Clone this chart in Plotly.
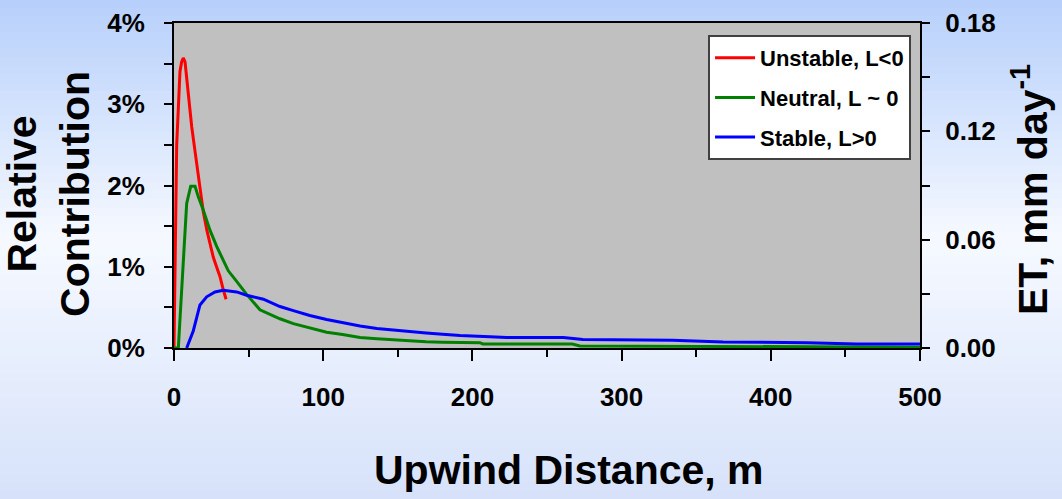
import plotly.graph_objects as go

# upwind distance (m) and relative contribution (%)
unstable_x = [0, 1.1, 1.8, 2.9, 4.0, 5.1, 6.2, 7.4, 8.5, 9.6, 11.9, 14.1, 17.4, 19.6, 22.0, 24.1, 26.3, 28.5, 30.8, 33.0, 34.9]
unstable_y = [0, 1.2, 2.5, 2.95, 3.4, 3.52, 3.57, 3.52, 3.3, 3.08, 2.72, 2.42, 1.95, 1.68, 1.45, 1.28, 1.12, 1.0, 0.88, 0.72, 0.6]

neutral_x = [0, 2.9, 8.5, 11.2, 14.1, 16.3, 19.6, 24.1, 28.6, 30.8, 36.4, 42, 48.7, 57.6, 64.3, 71, 80, 90, 102.3,
             113, 124.7, 136, 147, 158, 169, 180, 191.7, 205, 207, 267, 272, 330, 400, 478, 500]
neutral_y = [0, 0, 1.78, 1.99, 1.99, 1.86, 1.70, 1.45, 1.25, 1.17, 0.95, 0.82, 0.66, 0.47, 0.41, 0.36, 0.30, 0.25, 0.195,
             0.165, 0.13, 0.115, 0.10, 0.09, 0.078, 0.072, 0.068, 0.065, 0.05, 0.05, 0.025, 0.022, 0.02, 0.015, 0.01]

stable_x = [8.5, 12.9, 17.4, 21.9, 27.5, 33, 42, 48.7, 59.9, 71, 80, 91, 102.3, 113, 124.7, 136, 147, 158, 169, 180,
            191.7, 211.8, 223, 261, 274, 334, 368, 424, 457.6, 500]
stable_y = [0, 0.21, 0.53, 0.63, 0.69, 0.71, 0.69, 0.65, 0.6, 0.51, 0.46, 0.40, 0.35, 0.31, 0.27, 0.24, 0.22, 0.20,
            0.185, 0.17, 0.155, 0.14, 0.13, 0.13, 0.105, 0.095, 0.075, 0.065, 0.05, 0.05]

series = [
    ("Unstable, L<0", unstable_x, unstable_y, "#ff0000"),
    ("Neutral, L ~ 0", neutral_x, neutral_y, "#008000"),
    ("Stable, L>0", stable_x, stable_y, "#0000ff"),
]

TITLE_FONT = dict(family="Liberation Sans, Arial, sans-serif", size=41, color="black", weight="bold")
TICK_FONT = dict(family="Liberation Sans, Arial, sans-serif", size=26, color="black", weight="bold")

fig = go.Figure()
for name, xs, ys, color in series:
    fig.add_trace(go.Scatter(x=xs, y=ys, mode="lines", name=name, legendgroup=name,
                             line=dict(color=color, width=3)))

# page background: vertical blue-white-blue gradient drawn as thin bands
stops = [(0.0, (182, 207, 251)), (0.48, (246, 249, 255)), (1.0, (214, 226, 250))]
n_bands = 60
top, bottom = 1 + 23 / 325, -151 / 325
shapes = []
for i in range(n_bands):
    t = (i + 0.5) / n_bands
    for (t0, c0), (t1, c1) in zip(stops[:-1], stops[1:]):
        if t0 <= t <= t1:
            f = (t - t0) / (t1 - t0)
            c = tuple(round(a + (b - a) * f) for a, b in zip(c0, c1))
            break
    y0 = top - (top - bottom) * i / n_bands
    y1 = top - (top - bottom) * (i + 1) / n_bands
    shapes.append(dict(type="rect", xref="paper", yref="paper", x0=-0.25, x1=1.25, y0=y1 - 0.002, y1=y0 + 0.002,
                       fillcolor="rgb(%d,%d,%d)" % c, line_width=0, layer="below"))
shapes.append(dict(type="rect", xref="paper", yref="paper", x0=0, x1=1, y0=0, y1=1,
                   fillcolor="#c0c0c0", line_width=0, layer="below"))

fig.update_layout(
    width=1062, height=499,
    margin=dict(l=174, r=142, t=23, b=151),
    paper_bgcolor="#eef3fe",
    plot_bgcolor="rgba(0,0,0,0)",
    shapes=shapes,
    showlegend=True,
    legend=dict(x=0.988, y=0.963, xanchor="right", yanchor="top", bgcolor="white",
                bordercolor="#404040", borderwidth=2,
                font=dict(family=TICK_FONT["family"], size=22, color="black", weight="bold"),
                tracegroupgap=8, itemwidth=40),
    xaxis=dict(range=[0, 500], dtick=100, tick0=0, showgrid=False, zeroline=False, automargin=False,
               showline=True, linecolor="black", linewidth=2, mirror=True,
               ticks="outside", ticklen=11, tickwidth=2, tickcolor="black",
               minor=dict(dtick=50, ticks="outside", ticklen=7, tickwidth=2, tickcolor="black", showgrid=False),
               tickfont=TICK_FONT, ticklabelstandoff=14),
    yaxis=dict(range=[0, 4], dtick=1, tick0=0, ticksuffix="%", showgrid=False, zeroline=False, automargin=False,
               showline=True, linecolor="black", linewidth=2,
               ticks="outside", ticklen=8, tickwidth=2, tickcolor="black",
               minor=dict(dtick=0.5, ticks="outside", ticklen=8, tickwidth=2, tickcolor="black", showgrid=False),
               tickfont=TICK_FONT, ticklabelstandoff=14),
    yaxis2=dict(range=[0, 0.18], dtick=0.06, tick0=0, tickformat=".2f", overlaying="y", side="right",
                showgrid=False, zeroline=False, showline=True, linecolor="black", linewidth=2, automargin=False,
                ticks="outside", ticklen=8, tickwidth=2, tickcolor="black",
                minor=dict(dtick=0.03, ticks="outside", ticklen=8, tickwidth=2, tickcolor="black", showgrid=False),
                tickfont=TICK_FONT, ticklabelstandoff=10),
    annotations=[
        dict(text="Upwind Distance, m", xref="paper", yref="paper", x=0.5295, y=-0.375,
             xanchor="center", yanchor="middle", showarrow=False, font=TITLE_FONT),
        dict(text="Relative<br>Contribution", xref="paper", yref="paper", x=-0.1676, y=0.474,
             xanchor="center", yanchor="middle", showarrow=False, textangle=-90, font=TITLE_FONT),
        dict(text="ET, mm day<sup>-1</sup>", xref="paper", yref="paper", x=1.1475, y=0.486,
             xanchor="center", yanchor="middle", showarrow=False, textangle=-90, font=TITLE_FONT),
    ],
)
# keeps the right-hand ET axis drawn
fig.add_trace(go.Scatter(x=[], y=[], yaxis="y2", showlegend=False, hoverinfo="skip"))

fig.write_html("out.html", config={"displayModeBar": False},
               post_script="document.body.style.margin='0';document.body.style.overflow='hidden';")
